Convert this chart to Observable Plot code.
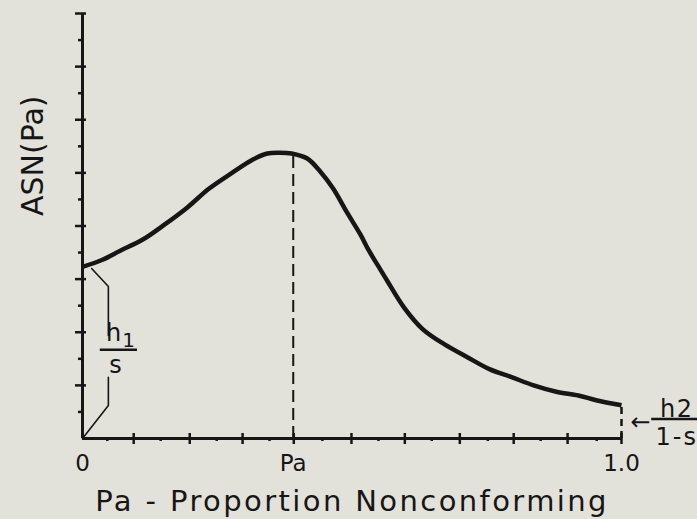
<!DOCTYPE html>
<html>
<head>
<meta charset="utf-8">
<script src="https://cdn.jsdelivr.net/npm/d3@7"></script>
<script src="https://cdn.jsdelivr.net/npm/@observablehq/plot@0.6"></script>
<style>
  html, body { margin: 0; padding: 0; background: #e3e2da; }
  #chart svg { display: block; }
</style>
</head>
<body>
<div id="chart"></div>
<script>
// Curve: proportion nonconforming vs ASN (in y-tick units)
const pa  = [0, 0.037, 0.070, 0.111, 0.152, 0.194, 0.235, 0.276, 0.317, 0.343, 0.365, 0.388,
             0.417, 0.441, 0.465, 0.491, 0.515, 0.532, 0.550, 0.565, 0.597, 0.631, 0.671, 0.714,
             0.755, 0.796, 0.837, 0.879, 0.920, 0.953, 1.0];
const asn = [6.46, 6.73, 7.07, 7.48, 8.05, 8.69, 9.41, 9.98, 10.51, 10.73, 10.76, 10.73,
             10.54, 10.05, 9.41, 8.50, 7.70, 7.05, 6.45, 5.95, 4.92, 4.12, 3.55, 3.06,
             2.61, 2.31, 2.00, 1.76, 1.62, 1.44, 1.25];

const paPeak = 0.391;

// Axis ticks (hand-drawn positions)
const xMajorTicks = [0.095, 0.199, 0.297, 0.392, 0.499, 0.598, 0.700, 0.800, 0.900, 1.0];
const xMinorTicks = [0.046, 0.145, 0.249, 0.347, 0.445, 0.549, 0.648, 0.752, 0.850, 0.954];
const yMajorTicks = [2, 4, 6, 8, 10, 12, 14, 16];
const yMinorTicks = [1, 3, 5, 7, 9, 11, 13, 15];

const xTickValues = [0, paPeak, 1];
const xTickLabels = ["0", "Pa", "1.0"];

const xTitle = "Pa - Proportion Nonconforming";
const yTitle = "ASN(Pa)";

// Bracket for h1/s at the left (two pieces around the fraction)
const bracketSeg = ["upper", "upper", "upper", "lower", "lower", "lower"];
const bracketX   = [0.017, 0.048, 0.048, 0.048, 0.048, 0];
const bracketY   = [6.40, 5.72, 3.88, 2.30, 1.24, 0];

const curve = pa.map((x, i) => ({x, y: asn[i]}));
const bracket = bracketX.map((x, i) => ({x, y: bracketY[i], seg: bracketSeg[i]}));
const ticksLabelled = xTickValues.map((x, i) => ({x, label: xTickLabels[i]}));

const ink = "#161616";
const y0 = asn[0], yEnd = asn[asn.length - 1], yPeak = d3.max(asn);

const W = 697, H = 519;
const mL = 82, mR = 76, mT = 13, mB = 81;
const plotW = W - mL - mR, plotH = H - mT - mB;

const chart = Plot.plot({
  width: W, height: H,
  marginLeft: mL, marginRight: mR, marginTop: mT, marginBottom: mB,
  x: {domain: [0, 1], axis: null},
  y: {domain: [0, 16], axis: null},
  style: {fontFamily: "DejaVu Sans", background: "#e3e2da", color: ink},
  marks: [
    // axes
    Plot.ruleX([0], {stroke: ink, strokeWidth: 3}),
    Plot.ruleY([0], {stroke: ink, strokeWidth: 3}),
    // y ticks
    Plot.tickY(yMajorTicks, {y: d => d, insetRight: plotW - 11, dx: -7, stroke: ink, strokeWidth: 2.5}),
    Plot.tickY(yMinorTicks, {y: d => d, insetRight: plotW - 6, dx: -4, stroke: ink, strokeWidth: 2.5}),
    // x ticks
    Plot.tickX(xMajorTicks, {x: d => d, insetTop: plotH - 11, dy: 6, stroke: ink, strokeWidth: 2.5}),
    Plot.tickX(xMinorTicks, {x: d => d, insetTop: plotH - 4, dy: 3, stroke: ink, strokeWidth: 2.5}),
    // dashed guides
    Plot.ruleX([paPeak], {y1: 0, y2: yPeak, stroke: ink, strokeWidth: 2, strokeDasharray: "12,6"}),
    Plot.ruleX([1], {y1: 0, y2: yEnd, stroke: ink, strokeWidth: 2.5, strokeDasharray: "7,5"}),
    // curve
    Plot.line(curve, {x: "x", y: "y", stroke: ink, strokeWidth: 4.5, curve: "catmull-rom",
                      strokeLinejoin: "round", strokeLinecap: "butt"}),
    // h1/s bracket
    Plot.line(bracket, {x: "x", y: "y", z: "seg", stroke: ink, strokeWidth: 1.6}),
    Plot.ruleY([y0 / 2], {x1: 0.033, x2: 0.102, dy: -3, stroke: ink, strokeWidth: 2.5}),
    Plot.text(["h"], {text: d => d, x: 0, y: y0 / 2, dx: 31, dy: -12, lineAnchor: "bottom", fontSize: 24, fill: ink}),
    Plot.text(["1"], {text: d => d, x: 0, y: y0 / 2, dx: 46, dy: -6, lineAnchor: "bottom", fontSize: 20, fill: ink}),
    Plot.text(["s"], {text: d => d, x: 0, y: y0 / 2, dx: 33, dy: 20, lineAnchor: "bottom", fontSize: 24, fill: ink}),
    // h2/(1-s) annotation
    Plot.text(["\u2190"], {text: d => d, x: 1, y: yEnd / 2, dx: 19, lineAnchor: "middle", fontSize: 24, fill: ink}),
    Plot.ruleY([yEnd / 2], {x1: 1.056, x2: 1.16, dy: -3, stroke: ink, strokeWidth: 2.5}),
    Plot.text(["h"], {text: d => d, x: 1, y: yEnd / 2, dx: 46, dy: -5, lineAnchor: "bottom", fontSize: 24, fill: ink}),
    Plot.text(["2"], {text: d => d, x: 1, y: yEnd / 2, dx: 63, dy: -5, lineAnchor: "bottom", fontSize: 24, fill: ink}),
    Plot.text(["1-s"], {text: d => d, x: 1, y: yEnd / 2, dx: 34, dy: 23, textAnchor: "start", lineAnchor: "bottom", fontSize: 24, fill: ink}),
    // tick labels
    Plot.text(ticksLabelled, {x: "x", text: "label", frameAnchor: "bottom", dy: 32, lineAnchor: "bottom", fontSize: 23, fill: ink}),
    // axis titles
    Plot.text([xTitle], {text: d => d, frameAnchor: "bottom", dy: 72, lineAnchor: "bottom", fontSize: 29, fill: ink}),
    Plot.text([yTitle], {text: d => d, frameAnchor: "top-left", dx: -40, dy: 82, rotate: -90,
                         textAnchor: "end", lineAnchor: "bottom", fontSize: 30, fill: ink})
  ]
});

d3.select(chart).selectAll("text").each(function() {
  const t = this.textContent;
  if (t === xTitle) this.setAttribute("letter-spacing", "2.4");
  if (t === "1-s") this.setAttribute("letter-spacing", "2");
});

document.getElementById("chart").appendChild(chart);
</script>
</body>
</html>
